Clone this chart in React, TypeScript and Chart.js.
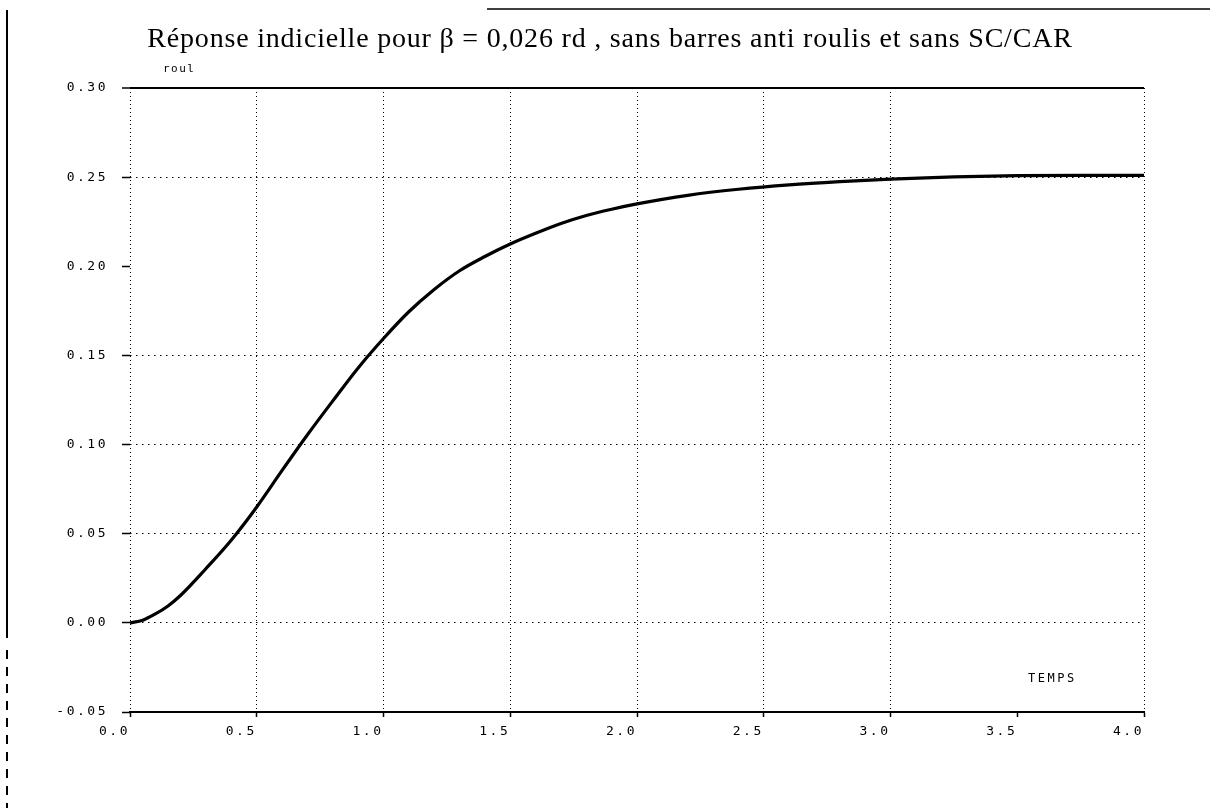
import React, { useEffect, useRef } from 'react';
import { Chart, registerables } from 'chart.js';

Chart.register(...registerables);

const TITLE = 'Réponse indicielle pour β = 0,026 rd , sans barres anti roulis et sans SC/CAR';
const Y_NAME = 'roul';
const X_NAME = 'TEMPS';

// temps (s)
const temps = [
  0, 0.05, 0.1, 0.15, 0.2, 0.3, 0.4, 0.5, 0.6, 0.7, 0.8, 0.9, 1.0, 1.1, 1.2, 1.3,
  1.4, 1.5, 1.6, 1.7, 1.8, 1.9, 2.0, 2.2, 2.4, 2.6, 2.8, 3.0, 3.25, 3.5, 3.75, 4.0,
];
// roulis (rd)
const roulis = [
  0, 0.0015, 0.005, 0.0095, 0.0155, 0.0305, 0.0465, 0.065, 0.0855, 0.1055, 0.1245, 0.143, 0.1595, 0.1745, 0.187, 0.1975,
  0.2055, 0.2125, 0.2185, 0.224, 0.2285, 0.232, 0.235, 0.2398, 0.2432, 0.2457, 0.2475, 0.2489, 0.2501, 0.2508, 0.251, 0.251,
];

const xMin = 0;
const xMax = 4;
const xStep = 0.5;
const yMin = -0.05;
const yMax = 0.3;
const yStep = 0.05;
// grid lines that do not show on the reference
const hiddenYGrid = [0.2];
const hiddenXGrid = [3.5];

const near = (a: number, b: number) => Math.abs(a - b) < 1e-6;
const tickVal = (c: any): number | null => {
  if (c && c.tick && typeof c.tick.value === 'number') return c.tick.value;
  return null;
};

const decoPlugin = {
  id: 'deco',
  beforeDraw(chart: any) {
    chart.ctx.letterSpacing = '2.5px';
  },
  afterDraw(chart: any) {
    const { ctx, chartArea } = chart;
    ctx.save();
    ctx.fillStyle = '#000';
    ctx.letterSpacing = '0.8px';
    ctx.font = '28px "Liberation Serif", serif';
    ctx.textAlign = 'center';
    ctx.textBaseline = 'alphabetic';
    ctx.fillText(TITLE, 610, 47);

    ctx.letterSpacing = '1.5px';
    ctx.font = '11px "DejaVu Sans Mono", monospace';
    ctx.textAlign = 'left';
    ctx.fillText(Y_NAME, chartArea.left + 33, chartArea.top - 16);

    ctx.letterSpacing = '2.5px';
    ctx.font = '12px "DejaVu Sans Mono", monospace';
    ctx.fillText(X_NAME, chartArea.right - 116, chartArea.bottom - 30);

    // page frame remnants
    ctx.letterSpacing = '0px';
    ctx.strokeStyle = '#000';
    ctx.lineWidth = 2;
    ctx.beginPath();
    ctx.moveTo(7, 10);
    ctx.lineTo(7, 638);
    ctx.stroke();
    ctx.setLineDash([9, 8]);
    ctx.beginPath();
    ctx.moveTo(7, 650);
    ctx.lineTo(7, 808);
    ctx.stroke();
    ctx.setLineDash([]);
    ctx.lineWidth = 1.5;
    ctx.beginPath();
    ctx.moveTo(487, 9);
    ctx.lineTo(1210, 9);
    ctx.stroke();
    ctx.restore();
  },
};

export default function App() {
  const ref = useRef<HTMLCanvasElement>(null);

  useEffect(() => {
    const canvas = ref.current;
    if (!canvas) return;
    const chart = new Chart(canvas, {
      type: 'line',
      data: {
        datasets: [
          {
            label: 'roul',
            data: temps.map((t, i) => ({ x: t, y: roulis[i] })),
            borderColor: '#000',
            borderWidth: 3.2,
            pointRadius: 0,
            fill: false,
            cubicInterpolationMode: 'monotone',
          },
        ],
      },
      options: {
        responsive: false,
        animation: false,
        devicePixelRatio: 1,
        layout: { padding: { top: 88, right: 66, left: 0, bottom: 0 } },
        plugins: {
          legend: { display: false },
          tooltip: { enabled: false },
          title: { display: false },
        },
        scales: {
          x: {
            type: 'linear',
            min: xMin,
            max: xMax,
            afterFit: (s: any) => {
              s.height = 96;
            },
            border: {
              display: true,
              color: '#000',
              width: 2,
              dash: (c: any) => (tickVal(c) === null ? [] : [1, 3]),
            },
            grid: {
              color: (c: any) => {
                const v = tickVal(c);
                if (v === null) return '#000';
                return hiddenXGrid.some((h) => near(h, v)) ? 'rgba(0,0,0,0)' : '#000';
              },
              lineWidth: 1,
              tickLength: 5,
              tickColor: '#000',
              tickWidth: 1.5,
              tickBorderDash: [],
            },
            ticks: {
              stepSize: xStep,
              autoSkip: false,
              maxRotation: 0,
              align: 'end',
              padding: 7,
              color: '#000',
              font: { family: '"DejaVu Sans Mono", monospace', size: 13 },
              callback: (v: any) => (Math.abs(Number(v)) < 1e-9 ? 0 : Number(v)).toFixed(1),
            },
          },
          y: {
            type: 'linear',
            min: yMin,
            max: yMax,
            afterFit: (s: any) => {
              s.width = 130;
            },
            border: {
              display: false,
              dash: (c: any) => {
                const v = tickVal(c);
                return v === null || near(v, yMax) ? [] : [1.5, 4.5];
              },
            },
            grid: {
              color: (c: any) => {
                const v = tickVal(c);
                if (v === null) return '#000';
                return hiddenYGrid.some((h) => near(h, v)) ? 'rgba(0,0,0,0)' : '#000';
              },
              lineWidth: (c: any) => {
                const v = tickVal(c);
                return v !== null && near(v, yMax) ? 2 : 1;
              },
              tickLength: 8,
              tickColor: '#000',
              tickWidth: 1.5,
              tickBorderDash: [],
            },
            ticks: {
              stepSize: yStep,
              autoSkip: false,
              padding: 14,
              color: '#000',
              font: { family: '"DejaVu Sans Mono", monospace', size: 13 },
              callback: (v: any) => (Math.abs(Number(v)) < 1e-9 ? 0 : Number(v)).toFixed(2),
            },
          },
        },
      },
      plugins: [decoPlugin],
    } as any);
    return () => chart.destroy();
  }, []);

  return (
    <div style={{ position: 'absolute', left: 0, top: 0, width: 1210, height: 808, background: '#fff' }}>
      <canvas ref={ref} width={1210} height={808} style={{ display: 'block', width: 1210, height: 808 }} />
    </div>
  );
}
